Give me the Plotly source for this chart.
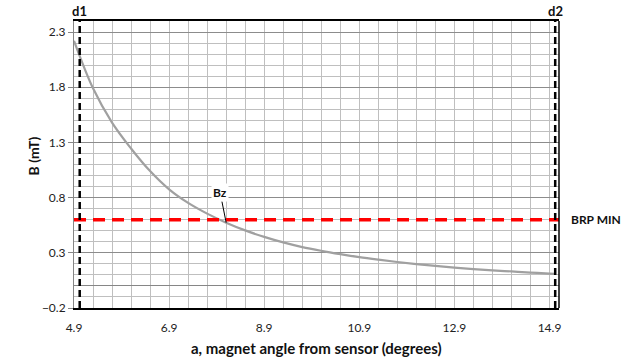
import plotly.graph_objects as go

# Data
angle = [4.9, 5.3, 5.7, 6.1, 6.5, 6.9, 7.3, 7.7, 8.1, 8.5, 8.9, 9.3, 9.7, 10.1,
         10.5, 10.9, 11.3, 11.7, 12.1, 12.5, 12.9, 13.3, 13.7, 14.1, 14.5, 14.9, 15.0]
bz = [2.22, 1.79, 1.48, 1.245, 1.04, 0.875, 0.752, 0.655, 0.573, 0.503, 0.444, 0.394,
      0.352, 0.318, 0.288, 0.261, 0.238, 0.217, 0.198, 0.181, 0.166, 0.153, 0.141,
      0.131, 0.121, 0.112, 0.110]
brp_min = 0.6
d1 = 5.02
d2 = 15.02
x_range = [4.9, 15.1]
y_range = [-0.2, 2.4]
series_name = "Bz"

FONT = "Lato"

fig = go.Figure()

# Curve
fig.add_trace(go.Scatter(x=angle, y=bz, mode="lines", line=dict(color="#A0A0A0", width=2.2,
                         shape="spline"), name=series_name, hoverinfo="skip"))
# BRP MIN line
fig.add_trace(go.Scatter(x=x_range, y=[brp_min, brp_min], mode="lines",
                         line=dict(color="#FF0000", width=3.5, dash="12px,7px"), hoverinfo="skip"))
# d1, d2 vertical dashed lines
for d in (d1, d2):
    fig.add_trace(go.Scatter(x=[d, d], y=y_range, mode="lines",
                             line=dict(color="#000000", width=2.5, dash="7px,4px"), hoverinfo="skip"))

fig.update_layout(
    width=641, height=361,
    margin=dict(l=74, r=82, t=21, b=53, autoexpand=False),
    paper_bgcolor="white", plot_bgcolor="white",
    showlegend=False,
    font=dict(family=FONT, size=12, color="#222222"),
)

fig.update_xaxes(
    range=x_range, tick0=4.9, dtick=2, tickformat=".1f",
    showgrid=True, gridcolor="#BFBFBF", gridwidth=1,
    minor=dict(dtick=0.4, tick0=4.9, showgrid=True, gridcolor="#BFBFBF", gridwidth=1),
    showline=True, linecolor="#000000", linewidth=1.5, mirror=True,
    zeroline=False, ticks="", ticklabelstandoff=8,
    tickfont=dict(family=FONT, size=12, color="#222222"),
)
fig.update_yaxes(
    range=y_range, tick0=-0.2, dtick=0.5, tickformat=".1f",
    showgrid=True, gridcolor="#8C8C8C", gridwidth=1,
    minor=dict(dtick=0.1, tick0=-0.2, showgrid=True, gridcolor="#BFBFBF", gridwidth=1),
    showline=True, linecolor="#868686", linewidth=1,
    zeroline=True, zerolinecolor="#868686", zerolinewidth=1,
    ticks="outside", ticklen=5, tickcolor="#868686",
    tickfont=dict(family=FONT, size=12, color="#222222"),
)

# right frame border
fig.add_shape(type="line", xref="paper", yref="paper", x0=1, x1=1, y0=0, y1=1,
              line=dict(color="#000000", width=1.5))

anns = [
    dict(x=d1, y=1, xref="x", yref="paper", text="<b>d1</b>", showarrow=False,
         yanchor="bottom", yshift=0, font=dict(size=13, color="#111111")),
    dict(x=d2, y=1, xref="x", yref="paper", text="<b>d2</b>", showarrow=False,
         yanchor="bottom", yshift=0, font=dict(size=13, color="#111111")),
    dict(x=1, y=brp_min, xref="paper", yref="y", text="<b>BRP MIN</b>", showarrow=False,
         xanchor="left", xshift=10, font=dict(size=12, color="#111111")),
    dict(x=8.1, y=0.573, xref="x", yref="y", text="<b>Bz</b>", showarrow=True,
         arrowhead=0, arrowwidth=1, arrowcolor="#000000", ax=-6, ay=-30,
         bgcolor="white", font=dict(size=12, color="#111111")),
    dict(x=0.5, y=0, xref="paper", yref="paper", yshift=-40, yanchor="middle",
         text="<b>a, magnet angle from sensor (degrees)</b>", showarrow=False,
         font=dict(size=15, color="#111111")),
    dict(x=0, y=0.53, xref="paper", yref="paper", xshift=-51, textangle=-90,
         text="<b>B (mT)</b>", showarrow=False, font=dict(size=14, color="#111111")),
]
fig.update_layout(annotations=anns)

fig.write_html("out.html", config={"displayModeBar": False},
               post_script="document.body.style.margin='0';document.body.style.overflow='hidden';")
